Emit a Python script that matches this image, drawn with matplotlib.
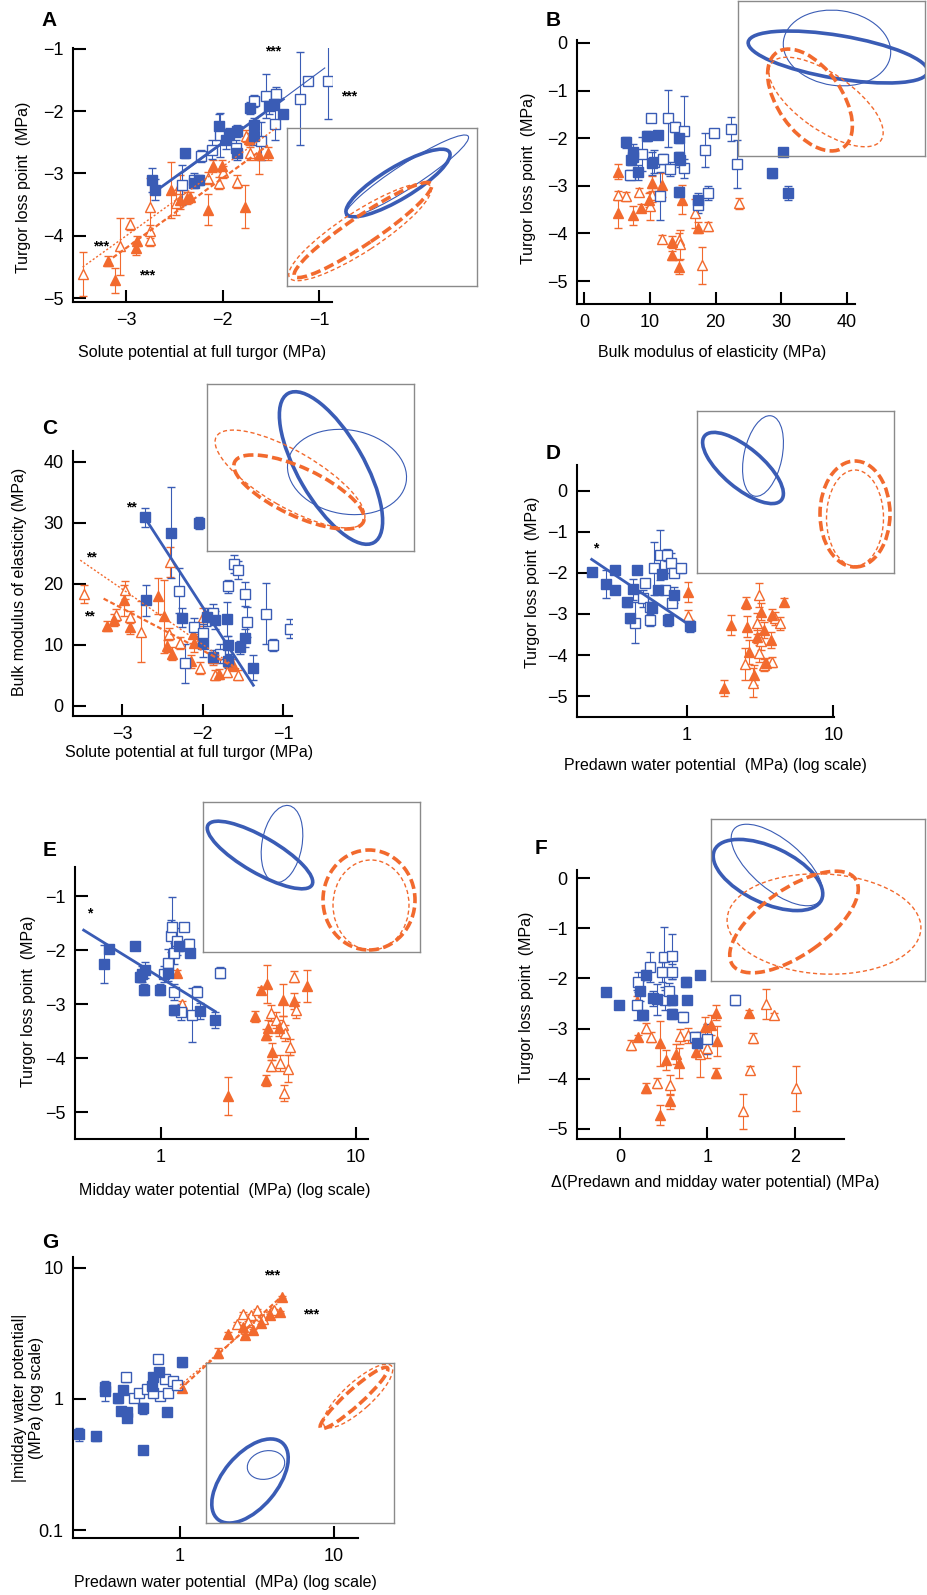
import matplotlib
matplotlib.use("Agg")
import matplotlib.pyplot as plt
from matplotlib.patches import Ellipse
from matplotlib.ticker import NullLocator

plt.rcParams['font.family'] = ['Liberation Sans Narrow', 'Liberation Sans', 'DejaVu Sans']

FIG_W, FIG_H = 927, 1595
BLUE = '#3a5cb5'
ORANGE = '#f26a2e'

# ---- data: (x, y, error) per group; bf/bo = blue filled/open, of/oo = orange filled/open ----
a_bf = [(-2.73, -3.10, 0.19), (-2.70, -3.26, 0.17), (-2.39, -2.68, 0.07), (-2.24, -3.10, 0.08),
        (-2.04, -2.24, 0.20), (-1.96, -2.46, 0.15), (-1.93, -2.37, 0.10), (-1.85, -2.32, 0.10),
        (-1.85, -2.68, 0.10), (-1.71, -1.95, 0.10), (-1.67, -2.23, 0.12), (-1.67, -2.40, 0.15),
        (-1.52, -1.92, 0.12), (-1.47, -1.89, 0.10), (-1.37, -2.04, 0.05), (-2.30, -3.15, 0.08)]
a_bo = [(-2.42, -3.18, 0.32), (-2.30, -3.10, 0.10), (-2.22, -2.72, 0.10), (-2.11, -2.62, 0.15),
        (-2.03, -2.38, 0.35), (-1.86, -2.59, 0.12), (-1.67, -1.84, 0.10), (-1.55, -1.76, 0.35),
        (-1.45, -1.72, 0.10), (-1.46, -2.21, 0.25), (-1.60, -2.48, 0.30), (-1.20, -1.80, 0.74),
        (-1.11, -1.52, 0.05), (-0.91, -1.52, 0.60)]
a_of = [(-3.19, -4.41, 0.08), (-3.11, -4.71, 0.20), (-2.89, -4.09, 0.08), (-2.90, -4.20, 0.10),
        (-2.53, -3.27, 0.45), (-2.44, -3.42, 0.15), (-2.37, -3.39, 0.10), (-2.34, -3.37, 0.08),
        (-2.15, -3.58, 0.25), (-2.10, -2.88, 0.10), (-2.01, -2.88, 0.10), (-1.77, -3.53, 0.35),
        (-1.73, -2.45, 0.10), (-1.62, -2.71, 0.30), (-1.53, -2.68, 0.10)]
a_oo = [(-3.45, -4.61, 0.35), (-3.06, -4.17, 0.45), (-2.96, -3.81, 0.10), (-2.75, -3.53, 0.45),
        (-2.75, -4.06, 0.10), (-2.75, -3.93, 0.10), (-2.48, -3.47, 0.20), (-2.44, -3.18, 0.15),
        (-2.15, -3.07, 0.10), (-2.04, -3.15, 0.10), (-2.00, -2.98, 0.10), (-1.85, -3.13, 0.10),
        (-1.72, -2.68, 0.10), (-1.76, -2.40, 0.10)]

b_bf = [(6.45, -2.09, 0.12), (7.37, -2.28, 0.15), (7.47, -2.39, 0.12), (7.2, -2.46, 0.10),
        (8.23, -2.72, 0.15), (9.6, -1.95, 0.10), (11.3, -1.93, 0.08), (10.3, -2.53, 0.25),
        (14.5, -2.0, 0.10), (14.5, -2.39, 0.10), (14.6, -2.46, 0.15), (14.5, -3.13, 0.10),
        (17.4, -3.30, 0.15), (28.6, -2.74, 0.10), (30.2, -2.30, 0.05), (31.0, -3.15, 0.15)]
b_bo = [(6.96, -2.77, 0.10), (8.74, -2.33, 0.35), (10.2, -1.58, 0.08), (10.7, -2.49, 0.25),
        (12.0, -2.44, 0.10), (11.6, -3.22, 0.50), (12.8, -1.58, 0.60), (13.1, -2.65, 0.15),
        (13.8, -1.77, 0.10), (15.25, -1.84, 0.72), (15.25, -2.63, 0.20), (18.4, -2.25, 0.35),
        (18.8, -3.15, 0.15), (19.7, -1.90, 0.08), (22.3, -1.81, 0.25), (23.2, -2.54, 0.50),
        (17.4, -3.41, 0.15)]
b_of = [(5.2, -2.70, 0.15), (5.2, -3.58, 0.30), (7.47, -3.62, 0.20), (8.6, -3.46, 0.08),
        (9.86, -3.30, 0.15), (10.3, -2.95, 0.15), (11.8, -2.98, 0.25), (13.3, -4.18, 0.12),
        (13.3, -4.46, 0.10), (14.5, -4.71, 0.15), (14.9, -3.29, 0.30), (17.3, -3.88, 0.12)]
b_oo = [(5.2, -3.20, 0.10), (6.35, -3.22, 0.10), (8.3, -3.13, 0.08), (10.0, -3.42, 0.30),
        (10.4, -3.20, 0.15), (11.8, -4.11, 0.08), (14.5, -4.13, 0.15), (14.6, -4.23, 0.30),
        (16.8, -3.58, 0.30), (18.9, -3.85, 0.10), (17.9, -4.67, 0.38), (23.6, -3.37, 0.12)]

c_bf = [(-2.72, 30.9, 1.5), (-2.39, 28.4, 7.5), (-2.04, 30.0, 1.0), (-2.70, 17.3, 2.5),
        (-2.25, 14.5, 1.5), (-1.99, 10.1, 2.0), (-1.94, 14.6, 1.5), (-1.85, 14.1, 1.5),
        (-1.87, 8.1, 1.0), (-1.70, 14.3, 2.8), (-1.69, 10.0, 1.5), (-1.68, 7.3, 1.0),
        (-1.54, 9.6, 1.0), (-1.47, 11.2, 1.5), (-1.37, 6.3, 2.0)]
c_bo = [(-2.29, 18.9, 3.7), (-2.22, 7.0, 3.2), (-2.11, 13.0, 1.5), (-2.00, 11.9, 1.5),
        (-1.87, 15.2, 1.5), (-1.78, 8.6, 1.5), (-1.68, 19.6, 1.0), (-1.61, 23.3, 1.5),
        (-1.56, 22.3, 1.5), (-1.47, 18.4, 2.0), (-1.45, 13.8, 2.5), (-1.21, 15.1, 5.0),
        (-1.13, 10.0, 1.0), (-0.92, 12.7, 1.5)]
c_of = [(-3.19, 13.1, 0.8), (-3.10, 14.1, 1.0), (-2.98, 17.3, 2.5), (-2.90, 13.0, 1.2),
        (-2.55, 18.0, 3.0), (-2.48, 14.7, 6.0), (-2.44, 9.9, 1.0), (-2.38, 8.6, 1.0),
        (-2.15, 7.3, 1.0), (-2.12, 11.8, 1.5), (-2.11, 10.3, 1.5), (-1.87, 7.8, 1.0),
        (-1.80, 5.3, 0.8), (-1.62, 6.7, 1.0)]
c_oo = [(-3.47, 18.4, 1.5), (-3.08, 14.9, 1.0), (-2.97, 19.0, 1.5), (-2.90, 14.6, 1.0),
        (-2.77, 12.2, 5.0), (-2.40, 23.6, 2.5), (-2.42, 11.8, 1.0), (-2.28, 10.3, 1.0),
        (-2.03, 6.2, 1.0), (-1.99, 14.6, 1.5), (-1.85, 5.1, 0.8), (-1.70, 5.6, 0.8),
        (-1.56, 5.1, 0.8)]

d_bf = [(0.223, -1.98, 0.05), (0.280, -2.27, 0.35), (0.323, -2.41, 0.08), (0.323, -1.94, 0.06),
        (0.388, -2.72, 0.10), (0.409, -3.11, 0.10), (0.427, -2.40, 0.25), (0.455, -1.93, 0.06),
        (0.674, -2.03, 0.08), (0.633, -2.41, 0.10), (0.82, -2.54, 0.20), (0.737, -3.15, 0.15),
        (1.04, -3.29, 0.15), (0.576, -2.86, 0.10)]
d_bo = [(0.44, -3.21, 0.50), (0.50, -2.62, 0.20), (0.52, -2.24, 0.10), (0.56, -2.82, 0.10),
        (0.59, -1.89, 0.65), (0.65, -1.56, 0.60), (0.73, -1.56, 0.15), (0.78, -1.76, 0.25),
        (0.81, -2.01, 0.10), (0.91, -1.89, 0.10), (0.71, -2.41, 0.10), (0.79, -2.74, 0.10),
        (0.56, -3.15, 0.15)]
d_of = [(1.01, -2.46, 0.25), (1.78, -4.81, 0.20), (2.01, -3.27, 0.25), (2.51, -2.74, 0.15),
        (2.58, -3.31, 0.25), (2.64, -3.93, 0.30), (2.86, -4.49, 0.25), (3.02, -3.55, 0.15),
        (3.18, -2.94, 0.20), (3.35, -3.39, 0.20), (3.44, -4.20, 0.12), (3.82, -3.02, 0.15),
        (3.72, -3.63, 0.20), (4.59, -2.70, 0.10)]
d_oo = [(1.01, -3.05, 0.15), (2.47, -4.22, 0.40), (2.83, -4.67, 0.35), (3.10, -2.54, 0.30),
        (3.02, -3.23, 0.25), (3.18, -3.67, 0.20), (3.10, -3.96, 0.20), (3.35, -4.24, 0.15),
        (3.82, -4.16, 0.12), (4.02, -3.11, 0.15), (4.35, -3.23, 0.15)]

e_bf = [(0.512, -2.26, 0.35), (0.54, -1.98, 0.06), (0.733, -1.92, 0.05), (0.78, -2.50, 0.10),
        (0.80, -2.44, 0.15), (0.82, -2.73, 0.10), (0.83, -2.37, 0.15), (0.985, -2.73, 0.10),
        (1.08, -2.42, 0.15), (1.16, -3.11, 0.10), (1.23, -1.92, 0.10), (1.41, -2.05, 0.08),
        (1.58, -3.13, 0.15), (1.90, -3.29, 0.15)]
e_bo = [(1.03, -2.44, 0.15), (1.12, -1.74, 0.30), (1.14, -1.57, 0.55), (1.09, -2.23, 0.25),
        (1.21, -1.84, 0.25), (1.17, -2.06, 0.20), (1.31, -1.57, 0.05), (1.39, -1.88, 0.08),
        (1.53, -2.77, 0.10), (1.44, -3.20, 0.50), (1.16, -2.77, 0.15), (1.26, -3.14, 0.15),
        (2.01, -2.42, 0.10)]
e_of = [(1.21, -2.42, 0.05), (2.21, -4.71, 0.35), (3.04, -3.23, 0.10), (3.26, -2.73, 0.05),
        (3.50, -2.63, 0.35), (3.46, -3.57, 0.10), (3.54, -3.45, 0.15), (3.71, -3.88, 0.15),
        (3.46, -4.41, 0.10), (4.01, -3.45, 0.15), (4.22, -2.92, 0.30), (4.79, -2.94, 0.15),
        (5.61, -2.66, 0.30)]
e_oo = [(1.28, -3.00, 0.05), (3.64, -3.17, 0.15), (3.90, -3.29, 0.15), (3.64, -4.14, 0.10),
        (4.09, -4.09, 0.15), (4.22, -3.38, 0.15), (4.26, -4.65, 0.15), (4.46, -4.20, 0.25),
        (4.60, -3.79, 0.15), (4.79, -2.49, 0.10), (4.94, -3.11, 0.15), (4.33, -3.53, 0.15)]

f_bf = [(-0.16, -2.28, 0.05), (-0.01, -2.53, 0.05), (0.23, -2.26, 0.20), (0.26, -2.73, 0.10),
        (0.30, -1.93, 0.10), (0.38, -2.40, 0.15), (0.42, -2.42, 0.30), (0.59, -2.43, 0.10),
        (0.60, -2.70, 0.10), (0.76, -2.07, 0.10), (0.77, -2.43, 0.05), (0.91, -1.93, 0.05),
        (0.88, -3.29, 0.10)]
f_bo = [(0.19, -2.53, 0.30), (0.21, -2.07, 0.20), (0.34, -1.77, 0.30), (0.48, -1.87, 0.20),
        (0.50, -1.57, 0.60), (0.59, -1.56, 0.45), (0.59, -1.87, 0.15), (0.51, -2.43, 0.20),
        (0.56, -2.25, 0.15), (0.72, -2.76, 0.10), (0.86, -3.16, 0.10), (0.99, -3.21, 0.30),
        (1.31, -2.43, 0.10)]
f_of = [(0.19, -2.46, 0.10), (0.21, -3.17, 0.05), (0.30, -4.19, 0.10), (0.46, -3.29, 0.45),
        (0.46, -4.72, 0.20), (0.53, -3.62, 0.20), (0.57, -4.45, 0.15), (0.64, -3.50, 0.20),
        (0.67, -3.69, 0.30), (0.87, -3.47, 0.10), (0.97, -2.96, 0.20), (1.10, -2.68, 0.15),
        (1.04, -2.93, 0.20), (1.11, -3.24, 0.30), (1.10, -3.89, 0.10), (1.48, -2.68, 0.05)]
f_oo = [(0.13, -3.32, 0.10), (0.30, -2.99, 0.10), (0.36, -3.16, 0.10), (0.42, -4.09, 0.10),
        (0.57, -4.12, 0.20), (0.69, -3.15, 0.15), (0.78, -3.13, 0.15), (0.91, -3.51, 0.45),
        (0.99, -3.39, 0.20), (1.41, -4.65, 0.35), (1.49, -3.82, 0.08), (1.52, -3.19, 0.10),
        (1.67, -2.51, 0.30), (1.76, -2.73, 0.05), (2.01, -4.19, 0.45)]

g_bf = [(0.222, 0.54, 0.06), (0.286, 0.52, 0.04), (0.327, 1.16, 0.20), (0.327, 1.23, 0.10),
        (0.395, 1.01, 0.08), (0.412, 0.81, 0.06), (0.425, 1.18, 0.08), (0.45, 0.79, 0.05),
        (0.456, 0.72, 0.05), (0.578, 0.41, 0.03), (0.578, 0.85, 0.08), (0.655, 1.25, 0.10),
        (0.67, 1.46, 0.10), (0.735, 1.60, 0.10), (0.82, 0.80, 0.04), (1.03, 1.91, 0.15)]
g_bo = [(0.447, 1.46, 0.12), (0.50, 1.01, 0.05), (0.54, 1.12, 0.05), (0.61, 1.19, 0.05),
        (0.72, 2.02, 0.05), (0.74, 1.06, 0.05), (0.80, 1.42, 0.05), (0.84, 1.11, 0.05),
        (0.905, 1.38, 0.05), (0.95, 1.27, 0.05), (0.67, 1.12, 0.05)]
g_of = [(1.03, 1.21, 0.08), (1.77, 2.25, 0.20), (2.04, 3.14, 0.10), (2.57, 3.54, 0.10),
        (2.64, 3.05, 0.10), (2.98, 3.34, 0.10), (3.38, 3.81, 0.10), (3.83, 4.34, 0.10),
        (4.44, 4.60, 0.10), (4.62, 6.0, 0.10)]
g_oo = [(1.0, 1.27, 0.05), (2.57, 4.47, 0.10), (2.91, 4.34, 0.10), (3.14, 4.75, 0.10),
        (3.46, 4.05, 0.10), (3.92, 4.6, 0.10), (4.06, 4.75, 0.10), (2.77, 3.86, 0.10),
        (2.33, 3.74, 0.10)]

# regression lines: (group, x0, y0, x1, y1)
a_fits = [('bf', -2.70, -3.29, -1.37, -1.81), ('bo', -2.42, -3.00, -0.94, -1.31),
          ('of', -3.20, -4.42, -1.53, -2.55), ('oo', -3.45, -4.50, -1.44, -2.27)]
c_fits = [('bf', -2.72, 30.9, -1.37, 3.4), ('oo', -3.52, 23.9, -1.55, 6.0),
          ('of', -3.23, 17.6, -1.55, 6.0)]
d_fits = [('bf', 0.223, -1.67, 1.0, -3.23)]
e_fits = [('bf', 0.401, -1.63, 1.90, -3.14)]
g_fits = [('of', 1.0, 1.19, 4.67, 6.2), ('oo', 1.0, 1.27, 4.5, 5.6)]

# significance marks: (x, y, text)
a_sig = [(-1.476, -1.04, '***'), (-0.69, -1.77, '***'), (-3.26, -4.17, '***'), (-2.78, -4.64, '***')]
c_sig = [(-2.88, 32.6, '**'), (-3.38, 24.4, '**'), (-3.41, 14.6, '**')]
d_sig = [(0.236, -1.40, '*')]
e_sig = [(0.431, -1.32, '*')]
g_sig = [(3.93, 8.68, '***'), (7.13, 4.42, '***')]

# inset ellipses (cx, cy, width, height, angle) in inset pixels:
# thick blue, thin blue, thick dashed orange, thin dashed orange
a_ell = [(111, 103, 120, 32, 31), (120, 110, 146, 24, 33), (76, 56, 165, 28, 34), (73, 54, 168, 40, 33)]
b_ell = [(100, 99, 182, 43, -9.5), (99, 108, 108, 75, -8), (72, 56, 116, 64, -55), (88, 54, 134, 56, -35)]
c_ell = [(124, 83, 172, 66, -60), (140, 79, 120, 84, -10), (92, 59, 142, 48, -25), (83, 72, 170, 56, -30)]
d_ell = [(46, 105, 100, 40, -40), (66, 117, 38, 82, -12), (158, 59, 70, 106, 0), (158, 55, 57, 96, 0)]
e_ell = [(57, 97, 120, 36, -30), (79, 108, 40, 78, -10), (166, 52, 92, 100, 0), (168, 47, 76, 90, 0)]
f_ell = [(57, 106, 118, 56, -25), (66, 116, 112, 50, -40), (83, 59, 150, 66, 35), (113, 57, 194, 100, -3)]
g_ell = [(44, 42, 100, 54, 50), (60, 58, 38, 28, 15), (148, 125, 90, 16, 42), (152, 127, 90, 28, 42)]

MARK = {
    'bf': dict(fmt='s', mfc=BLUE, mec=BLUE, ecolor=BLUE, ms=6.5),
    'bo': dict(fmt='s', mfc='white', mec=BLUE, ecolor=BLUE, ms=6.5),
    'of': dict(fmt='^', mfc=ORANGE, mec=ORANGE, ecolor=ORANGE, ms=6.5),
    'oo': dict(fmt='^', mfc='white', mec=ORANGE, ecolor=ORANGE, ms=7),
}
LINE = {
    'bf': dict(color=BLUE, lw=2.0, ls='-'),
    'bo': dict(color=BLUE, lw=0.8, ls='-'),
    'of': dict(color=ORANGE, lw=1.6, ls=(0, (2.2, 1.2))),
    'oo': dict(color=ORANGE, lw=1.0, ls=(0, (1.5, 1.5))),
}
ELL = [(BLUE, 2.6, '-'), (BLUE, 0.8, '-'), (ORANGE, 2.6, (0, (2.8, 1.2))), (ORANGE, 1.0, (0, (3, 2)))]

fig = plt.figure(figsize=(FIG_W / 100, FIG_H / 100), dpi=100)


def frac(left, top, right, bottom):
    return [left / FIG_W, 1 - bottom / FIG_H, (right - left) / FIG_W, (bottom - top) / FIG_H]


def put(x, y, s, **kw):
    fig.text(x / FIG_W, 1 - y / FIG_H, s, ha='center', va='center', **kw)


def panel(box, xlim, ylim, groups, fits, sigs, xticks, yticks, xlog=False, ylog=False, xlabels=None, ylabels=None):
    ax = fig.add_axes(frac(*box))
    ax.set_facecolor('none')
    if xlog:
        ax.set_xscale('log')
    if ylog:
        ax.set_yscale('log')
    for key in ['oo', 'of', 'bo', 'bf']:
        pts = groups[key]
        ax.errorbar([p[0] for p in pts], [p[1] for p in pts], yerr=[p[2] for p in pts],
                    elinewidth=0.8, capsize=3, capthick=0.8, mew=1.0, zorder=3, **MARK[key])
    for key, x0, y0, x1, y1 in fits:
        ax.plot([x0, x1], [y0, y1], zorder=4, **LINE[key])
    for x, y, s in sigs:
        ax.text(x, y, s, ha='center', va='center', fontsize=10, fontweight='bold', clip_on=False)
    ax.set_xlim(xlim)
    ax.set_ylim(ylim)
    ax.set_xticks(xticks)
    ax.set_yticks(yticks)
    if xlabels:
        ax.set_xticklabels(xlabels)
    if ylabels:
        ax.set_yticklabels(ylabels)
    ax.xaxis.set_minor_locator(NullLocator())
    ax.yaxis.set_minor_locator(NullLocator())
    for s in ['top', 'right']:
        ax.spines[s].set_visible(False)
    for s in ['left', 'bottom']:
        ax.spines[s].set_linewidth(1.5)
    ax.tick_params(direction='in', length=9, width=1.5, labelsize=13, pad=7)
    return ax


def inset(box, ells):
    left, top, right, bottom = box
    ax = fig.add_axes(frac(*box))
    ax.set_facecolor('none')
    ax.set_xlim(0, right - left)
    ax.set_ylim(0, bottom - top)
    ax.set_xticks([])
    ax.set_yticks([])
    for s in ax.spines.values():
        s.set_color('#8a8a8a')
        s.set_linewidth(1.0)
    for (cx, cy, w, h, ang), (col, lw, ls) in zip(ells, ELL):
        ax.add_patch(Ellipse((cx, cy), w, h, angle=ang, fill=False, edgecolor=col, lw=lw, ls=ls))


lab = dict(fontsize=11.5)
pan = dict(fontsize=15, fontweight='bold')

# A
panel((73, 48, 332, 302), (-3.55, -0.865), (-5.06, -0.99),
      dict(bf=a_bf, bo=a_bo, of=a_of, oo=a_oo), a_fits, a_sig, [-3, -2, -1], [-5, -4, -3, -2, -1])
inset((287, 128, 477, 286), a_ell)
put(49, 21, 'A', **pan)
put(202, 352, 'Solute potential at full turgor (MPa)', **lab)
put(24, 187, 'Turgor loss point  (MPa)', rotation=90, **lab)

# B
panel((577, 40, 855, 304), (-1.07, 41.2), (-5.48, 0.06),
      dict(bf=b_bf, bo=b_bo, of=b_of, oo=b_oo), [], [], [0, 10, 20, 30, 40], [-5, -4, -3, -2, -1, 0])
inset((738, 1, 925, 156), b_ell)
put(553, 20, 'B', **pan)
put(712, 352, 'Bulk modulus of elasticity (MPa)', **lab)
put(529, 178, 'Turgor loss point  (MPa)', rotation=90, **lab)

# C
panel((73, 451, 292, 716), (-3.61, -0.89), (-1.64, 41.8),
      dict(bf=c_bf, bo=c_bo, of=c_of, oo=c_oo), c_fits, c_sig, [-3, -2, -1], [0, 10, 20, 30, 40])
inset((207, 384, 414, 551), c_ell)
put(50, 428, 'C', **pan)
put(189, 752, 'Solute potential at full turgor (MPa)', **lab)
put(20, 582, 'Bulk modulus of elasticity (MPa)', rotation=90, **lab)

# D
panel((577, 465, 834, 717), (0.177, 10.1), (-5.51, 0.63),
      dict(bf=d_bf, bo=d_bo, of=d_of, oo=d_oo), d_fits, d_sig, [1, 10], [-5, -4, -3, -2, -1, 0],
      xlog=True, xlabels=['1', '10'])
inset((697, 411, 894, 573), d_ell)
put(553, 453, 'D', **pan)
put(715, 766, 'Predawn water potential  (MPa) (log scale)', **lab)
put(532, 582, 'Turgor loss point  (MPa)', rotation=90, **lab)

# E
panel((75, 867, 368, 1139), (0.362, 11.5), (-5.5, -0.46),
      dict(bf=e_bf, bo=e_bo, of=e_of, oo=e_oo), e_fits, e_sig, [1, 10], [-5, -4, -3, -2, -1],
      xlog=True, xlabels=['1', '10'])
inset((203, 802, 420, 952), e_ell)
put(50, 851, 'E', **pan)
put(225, 1190, 'Midday water potential  (MPa) (log scale)', **lab)
put(29, 1001, 'Turgor loss point  (MPa)', rotation=90, **lab)

# F
panel((577, 870, 844, 1139), (-0.49, 2.56), (-5.2, 0.16),
      dict(bf=f_bf, bo=f_bo, of=f_of, oo=f_oo), [], [], [0, 1, 2], [-5, -4, -3, -2, -1, 0])
inset((711, 819, 925, 981), f_ell)
put(541, 848, 'F', **pan)
put(715, 1182, '\u0394(Predawn and midday water potential) (MPa)', **lab)
put(527, 997, 'Turgor loss point  (MPa)', rotation=90, **lab)

# G
panel((73, 1257, 358, 1538), (0.202, 14.3), (0.087, 12.1),
      dict(bf=g_bf, bo=g_bo, of=g_of, oo=g_oo), g_fits, g_sig, [1, 10], [0.1, 1, 10],
      xlog=True, ylog=True, xlabels=['1', '10'], ylabels=['0.1', '1', '10'])
inset((206, 1363, 394, 1523), g_ell)
put(50, 1243, 'G', **pan)
put(225, 1583, 'Predawn water potential  (MPa) (log scale)', **lab)
put(28, 1398, '|midday water potential|\n(MPa) (log scale)', rotation=90, linespacing=1.1, **lab)

fig.savefig('out.png', dpi=100)
